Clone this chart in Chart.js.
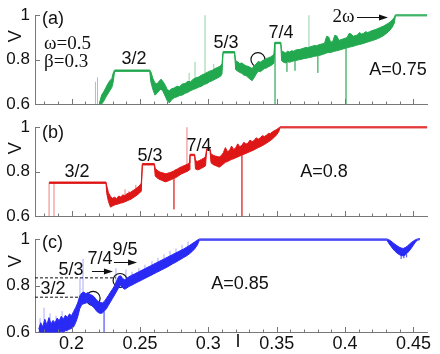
<!DOCTYPE html>
<html>
<head>
<meta charset="utf-8">
<script src="https://cdn.jsdelivr.net/npm/chart.js@4.4.0/dist/chart.umd.min.js"></script>
<style>
html,body{margin:0;padding:0;background:#fff;}
#wrap{position:relative;width:440px;height:354px;overflow:hidden;}
#wrap canvas{position:absolute;left:0;}
</style>
</head>
<body>
<div id="wrap">
<canvas id="chartA" width="440" height="120" style="top:0px"></canvas>
<canvas id="chartB" width="440" height="120" style="top:112px"></canvas>
<canvas id="chartC" width="440" height="130" style="top:224px"></canvas>
</div>
<script>
// axes
var xTicks = [0.2, 0.25, 0.3, 0.35, 0.4, 0.45];
var xTickLabels = ['0.2', '0.25', '0.3', '0.35', '0.4', '0.45'];
var xMinor = [0.18, 0.19, 0.21, 0.22, 0.23, 0.24, 0.26, 0.27, 0.28, 0.29, 0.31, 0.32, 0.33, 0.34, 0.36, 0.37, 0.38, 0.39, 0.41, 0.42, 0.43, 0.44];
var yTicks = [0.6, 0.8, 1];
var yTickLabels = ['0.6', '0.8', '1'];

// (a) A=0.75 : current I, upper and lower edge of the noisy V trace
var iA = [0.2205, 0.2220, 0.2235, 0.2250, 0.2265, 0.2280, 0.2295, 0.2305, 0.2315, 0.2572, 0.2580, 0.2595, 0.2610, 0.2625, 0.2640, 0.2655, 0.2670, 0.2685, 0.2700, 0.2715, 0.2730, 0.2750, 0.2770, 0.2790, 0.2810, 0.2830, 0.2850, 0.2870, 0.2890, 0.2910, 0.2930, 0.2950, 0.2970, 0.2990, 0.3010, 0.3030, 0.3050, 0.3070, 0.3090, 0.3100, 0.3108, 0.3192, 0.3200, 0.3215, 0.3230, 0.3245, 0.3260, 0.3275, 0.3290, 0.3305, 0.3320, 0.3335, 0.3350, 0.3365, 0.3380, 0.3395, 0.3410, 0.3425, 0.3440, 0.3455, 0.3470, 0.3480, 0.3486, 0.3530, 0.3536, 0.3550, 0.3565, 0.3580, 0.3595, 0.3610, 0.3625, 0.3640, 0.3655, 0.3670, 0.3685, 0.3700, 0.3715, 0.3730, 0.3745, 0.3760, 0.3775, 0.3790, 0.3805, 0.3820, 0.3835, 0.3850, 0.3865, 0.3880, 0.3895, 0.3910, 0.3925, 0.3940, 0.3955, 0.3970, 0.3985, 0.4000, 0.4015, 0.4030, 0.4045, 0.4060, 0.4075, 0.4090, 0.4105, 0.4120, 0.4135, 0.4150, 0.4165, 0.4180, 0.4195, 0.4210, 0.4225, 0.4240, 0.4255, 0.4270, 0.4285, 0.4300, 0.4315, 0.4330, 0.4345, 0.4360, 0.4368, 0.4600];
var hiA = [0.605, 0.640, 0.655, 0.672, 0.690, 0.705, 0.715, 0.740, 0.753, 0.753, 0.745, 0.715, 0.695, 0.690, 0.702, 0.712, 0.700, 0.685, 0.665, 0.660, 0.668, 0.672, 0.680, 0.678, 0.690, 0.692, 0.702, 0.700, 0.712, 0.718, 0.722, 0.730, 0.735, 0.742, 0.748, 0.752, 0.760, 0.765, 0.772, 0.780, 0.836, 0.836, 0.795, 0.790, 0.782, 0.785, 0.778, 0.772, 0.770, 0.765, 0.760, 0.772, 0.780, 0.792, 0.788, 0.795, 0.800, 0.805, 0.808, 0.812, 0.818, 0.825, 0.878, 0.878, 0.840, 0.835, 0.830, 0.838, 0.834, 0.840, 0.838, 0.843, 0.845, 0.846, 0.849, 0.852, 0.855, 0.853, 0.858, 0.860, 0.864, 0.862, 0.866, 0.869, 0.871, 0.874, 0.905, 0.902, 0.878, 0.882, 0.910, 0.906, 0.886, 0.890, 0.893, 0.896, 0.900, 0.918, 0.915, 0.905, 0.908, 0.911, 0.922, 0.915, 0.918, 0.926, 0.922, 0.926, 0.930, 0.933, 0.936, 0.940, 0.944, 0.948, 0.952, 0.958, 0.963, 0.970, 0.978, 0.990, 1.002, 1.002];
var loA = [0.600, 0.600, 0.612, 0.630, 0.645, 0.660, 0.675, 0.700, 0.747, 0.747, 0.700, 0.665, 0.640, 0.648, 0.660, 0.668, 0.655, 0.635, 0.615, 0.605, 0.618, 0.628, 0.632, 0.638, 0.640, 0.648, 0.652, 0.660, 0.665, 0.670, 0.676, 0.680, 0.688, 0.692, 0.700, 0.705, 0.712, 0.718, 0.725, 0.735, 0.830, 0.830, 0.755, 0.748, 0.742, 0.738, 0.730, 0.728, 0.720, 0.712, 0.705, 0.718, 0.735, 0.748, 0.745, 0.752, 0.760, 0.762, 0.768, 0.772, 0.778, 0.785, 0.872, 0.872, 0.795, 0.788, 0.785, 0.790, 0.788, 0.792, 0.794, 0.796, 0.798, 0.800, 0.802, 0.805, 0.806, 0.808, 0.810, 0.812, 0.815, 0.816, 0.818, 0.820, 0.823, 0.826, 0.830, 0.832, 0.832, 0.835, 0.838, 0.840, 0.842, 0.845, 0.848, 0.850, 0.853, 0.856, 0.858, 0.860, 0.863, 0.866, 0.868, 0.870, 0.873, 0.876, 0.879, 0.882, 0.885, 0.888, 0.891, 0.895, 0.899, 0.904, 0.910, 0.917, 0.925, 0.934, 0.946, 0.965, 0.997, 0.997];
var spkIA = [0.2175, 0.2190, 0.2860, 0.2903, 0.2976, 0.3040, 0.3488, 0.3575, 0.3634, 0.3736, 0.3801, 0.4007];
var spkFromA = [0.600, 0.600, 0.690, 0.700, 0.730, 0.740, 0.872, 0.790, 0.795, 0.850, 0.818, 0.850];
var spkToA = [0.700, 0.720, 0.740, 0.790, 1.000, 0.780, 0.600, 0.745, 0.750, 1.000, 0.740, 0.600];

// (b) A=0.8
var iB = [0.1836, 0.2252, 0.2258, 0.2270, 0.2285, 0.2300, 0.2315, 0.2330, 0.2345, 0.2360, 0.2375, 0.2390, 0.2405, 0.2420, 0.2435, 0.2450, 0.2465, 0.2480, 0.2495, 0.2510, 0.2518, 0.2605, 0.2612, 0.2625, 0.2640, 0.2655, 0.2670, 0.2685, 0.2700, 0.2715, 0.2730, 0.2745, 0.2760, 0.2775, 0.2790, 0.2805, 0.2820, 0.2835, 0.2850, 0.2860, 0.2866, 0.2900, 0.2906, 0.2920, 0.2935, 0.2950, 0.2965, 0.2980, 0.2988, 0.3012, 0.3020, 0.3035, 0.3050, 0.3065, 0.3080, 0.3095, 0.3110, 0.3125, 0.3140, 0.3155, 0.3170, 0.3185, 0.3200, 0.3215, 0.3230, 0.3245, 0.3260, 0.3275, 0.3290, 0.3305, 0.3320, 0.3335, 0.3350, 0.3365, 0.3380, 0.3395, 0.3410, 0.3425, 0.3440, 0.3455, 0.3470, 0.3485, 0.3500, 0.3515, 0.3524, 0.4600];
var hiB = [0.753, 0.753, 0.735, 0.705, 0.688, 0.680, 0.685, 0.678, 0.690, 0.686, 0.695, 0.692, 0.700, 0.704, 0.708, 0.715, 0.720, 0.728, 0.735, 0.748, 0.836, 0.836, 0.815, 0.806, 0.800, 0.796, 0.794, 0.790, 0.792, 0.795, 0.798, 0.802, 0.808, 0.812, 0.818, 0.822, 0.826, 0.830, 0.834, 0.840, 0.878, 0.878, 0.850, 0.846, 0.850, 0.855, 0.860, 0.868, 0.903, 0.903, 0.880, 0.874, 0.870, 0.868, 0.866, 0.872, 0.885, 0.908, 0.890, 0.895, 0.915, 0.900, 0.906, 0.925, 0.912, 0.918, 0.932, 0.924, 0.928, 0.942, 0.935, 0.940, 0.952, 0.946, 0.952, 0.962, 0.958, 0.964, 0.972, 0.972, 0.980, 0.985, 0.990, 0.996, 1.002, 1.002];
var loB = [0.747, 0.747, 0.700, 0.665, 0.640, 0.645, 0.650, 0.652, 0.655, 0.658, 0.660, 0.664, 0.668, 0.672, 0.676, 0.682, 0.688, 0.695, 0.702, 0.712, 0.830, 0.830, 0.780, 0.772, 0.766, 0.762, 0.758, 0.754, 0.756, 0.760, 0.764, 0.768, 0.772, 0.778, 0.784, 0.790, 0.794, 0.798, 0.802, 0.808, 0.872, 0.872, 0.812, 0.808, 0.810, 0.815, 0.820, 0.826, 0.897, 0.897, 0.840, 0.832, 0.828, 0.824, 0.820, 0.826, 0.834, 0.842, 0.845, 0.850, 0.855, 0.858, 0.862, 0.866, 0.870, 0.874, 0.878, 0.882, 0.886, 0.890, 0.894, 0.898, 0.903, 0.908, 0.912, 0.917, 0.922, 0.928, 0.934, 0.940, 0.948, 0.956, 0.966, 0.980, 0.997, 0.997];
var spkIB = [0.1836, 0.1872, 0.2391, 0.2420, 0.2470, 0.2749, 0.2844, 0.3246];
var spkFromB = [0.600, 0.600, 0.665, 0.672, 0.690, 0.766, 0.800, 0.874];
var spkToB = [0.750, 0.750, 0.720, 0.712, 0.740, 0.630, 1.000, 0.600];

// (c) A=0.85
var iC = [0.1760, 0.1775, 0.1790, 0.1805, 0.1820, 0.1835, 0.1850, 0.1865, 0.1880, 0.1895, 0.1910, 0.1925, 0.1940, 0.1955, 0.1970, 0.1985, 0.2000, 0.2015, 0.2030, 0.2045, 0.2060, 0.2075, 0.2090, 0.2105, 0.2120, 0.2135, 0.2150, 0.2165, 0.2180, 0.2195, 0.2210, 0.2225, 0.2240, 0.2255, 0.2270, 0.2285, 0.2300, 0.2315, 0.2330, 0.2345, 0.2360, 0.2375, 0.2390, 0.2405, 0.2420, 0.2440, 0.2460, 0.2480, 0.2500, 0.2520, 0.2540, 0.2560, 0.2580, 0.2600, 0.2620, 0.2640, 0.2660, 0.2680, 0.2700, 0.2720, 0.2740, 0.2760, 0.2780, 0.2800, 0.2820, 0.2840, 0.2860, 0.2880, 0.2900, 0.2920, 0.2935, 0.4306, 0.4320, 0.4335, 0.4350, 0.4365, 0.4380, 0.4395, 0.4410, 0.4425, 0.4440, 0.4455, 0.4470, 0.4485, 0.4500, 0.4515, 0.4530, 0.4547];
var hiC = [0.612, 0.640, 0.622, 0.655, 0.630, 0.662, 0.635, 0.650, 0.640, 0.660, 0.648, 0.668, 0.655, 0.672, 0.662, 0.678, 0.670, 0.688, 0.705, 0.725, 0.755, 0.768, 0.772, 0.765, 0.770, 0.762, 0.758, 0.752, 0.740, 0.732, 0.728, 0.725, 0.732, 0.745, 0.758, 0.772, 0.785, 0.800, 0.820, 0.840, 0.842, 0.830, 0.825, 0.832, 0.838, 0.845, 0.850, 0.856, 0.862, 0.868, 0.874, 0.880, 0.886, 0.892, 0.898, 0.904, 0.910, 0.916, 0.922, 0.928, 0.934, 0.940, 0.946, 0.952, 0.958, 0.965, 0.972, 0.980, 0.988, 0.996, 1.001, 1.001, 0.998, 0.992, 0.985, 0.978, 0.972, 0.966, 0.962, 0.960, 0.964, 0.970, 0.978, 0.986, 0.992, 0.998, 1.001, 1.003];
var loC = [0.600, 0.600, 0.600, 0.600, 0.600, 0.600, 0.600, 0.600, 0.600, 0.600, 0.600, 0.602, 0.600, 0.605, 0.608, 0.612, 0.615, 0.622, 0.640, 0.665, 0.700, 0.718, 0.722, 0.725, 0.728, 0.720, 0.712, 0.705, 0.692, 0.684, 0.680, 0.682, 0.690, 0.700, 0.715, 0.730, 0.745, 0.760, 0.775, 0.792, 0.800, 0.790, 0.784, 0.790, 0.796, 0.802, 0.808, 0.814, 0.820, 0.826, 0.832, 0.838, 0.844, 0.850, 0.856, 0.862, 0.868, 0.874, 0.880, 0.887, 0.894, 0.900, 0.907, 0.914, 0.921, 0.928, 0.936, 0.946, 0.958, 0.975, 0.996, 0.996, 0.982, 0.970, 0.958, 0.948, 0.940, 0.934, 0.930, 0.928, 0.932, 0.940, 0.950, 0.962, 0.975, 0.988, 0.996, 0.998];
var spkIC = [0.1770, 0.1799, 0.1843, 0.1887, 0.1931, 0.1967, 0.2062, 0.2084, 0.2238, 0.2325, 0.2398, 0.2442, 0.2493, 0.2537, 0.2588, 0.2632, 0.2676, 0.2720, 0.2764, 0.2808, 0.2852, 0.4410, 0.4430, 0.4450];
var spkFromC = [0.600, 0.600, 0.600, 0.600, 0.600, 0.600, 0.720, 0.730, 0.690, 0.780, 0.800, 0.800, 0.820, 0.835, 0.850, 0.865, 0.880, 0.895, 0.910, 0.925, 0.940, 0.935, 0.932, 0.935];
var spkToC = [0.660, 0.705, 0.680, 0.670, 0.690, 0.670, 0.835, 0.915, 0.600, 0.875, 0.870, 0.860, 0.875, 0.890, 0.905, 0.920, 0.935, 0.950, 0.960, 0.975, 0.990, 0.915, 0.918, 0.922];

// marked points and guide lines
var circIA = [0.3363];
var circVA = [0.800];
var circIC = [0.2158, 0.2355];
var circVC = [0.745, 0.822];
var guideIC = [0.1733, 0.2135, 0.1733, 0.2325];
var guideVC = [0.75, 0.75, 0.8333, 0.8333];

var I_MIN = 0.1733, I_MAX = 0.4599;
var axisColor = '#777';
var sans = '"Liberation Sans", Arial, Helvetica, sans-serif';
var serif = '"Liberation Serif", "Times New Roman", serif';

Chart.defaults.font.family = sans;
Chart.defaults.color = '#111';

var notesA = [
    {text: '(a)', x: 0.1784, y: 0.983, align: 'left'},
    {text: 'ω=0.5', x: 0.1799, y: 0.871, align: 'left', font: '19px ' + serif},
    {text: 'β=0.3', x: 0.1799, y: 0.789, align: 'left', font: '19px ' + serif},
    {text: '3/2', x: 0.2457, y: 0.802},
    {text: '5/3', x: 0.3129, y: 0.875},
    {text: '7/4', x: 0.3531, y: 0.918},
    {text: '2ω', x: 0.3988, y: 0.993, font: '19px ' + serif},
    {text: 'A=0.75', x: 0.4387, y: 0.755},
    {text: 'V', x: 0.1594, y: 0.905, rotate: true}
];
var arrowsA = [{x0: 0.4087, x1: 0.4314, y: 0.993}];

var notesB = [
    {text: '(b)', x: 0.1784, y: 0.974, align: 'left'},
    {text: '3/2', x: 0.2040, y: 0.796},
    {text: '5/3', x: 0.2574, y: 0.872},
    {text: '7/4', x: 0.2932, y: 0.915},
    {text: 'A=0.8', x: 0.3846, y: 0.796},
    {text: 'V', x: 0.1594, y: 0.905, rotate: true}
];

var notesC = [
    {text: '(c)', x: 0.1784, y: 0.983, align: 'left'},
    {text: '3/2', x: 0.1865, y: 0.785},
    {text: '5/3', x: 0.1996, y: 0.869},
    {text: '7/4', x: 0.2208, y: 0.916},
    {text: '9/5', x: 0.2391, y: 0.954},
    {text: 'A=0.85', x: 0.3232, y: 0.806},
    {text: 'V', x: 0.1594, y: 0.905, rotate: true},
    {text: 'I', x: 0.3217, y: 0.5580}
];
var arrowsC = [{x0: 0.2149, x1: 0.2303, y: 0.865}, {x0: 0.2310, x1: 0.2479, y: 0.903}];

/* inward tick marks like the original figure */
var tickMarks = {
    id: 'tickMarks',
    afterDraw: function(chart){
        var ctx = chart.ctx, a = chart.chartArea, x = chart.scales.x, y = chart.scales.y;
        ctx.save();
        ctx.strokeStyle = axisColor;
        ctx.lineWidth = 1;
        ctx.beginPath();
        xTicks.forEach(function(v){
            var p = Math.round(x.getPixelForValue(v)) + 0.5;
            ctx.moveTo(p, a.bottom); ctx.lineTo(p, a.bottom - 5);
        });
        xMinor.forEach(function(v){
            var p = Math.round(x.getPixelForValue(v)) + 0.5;
            ctx.moveTo(p, a.bottom); ctx.lineTo(p, a.bottom - 2.5);
        });
        yTicks.forEach(function(v){
            var p = Math.round(y.getPixelForValue(v)) + 0.5;
            ctx.moveTo(a.left, p); ctx.lineTo(a.left + 5, p);
        });
        ctx.stroke();
        ctx.restore();
    }
};

function notesPlugin(notes, arrows){
    return {
        id: 'notes',
        afterDatasetsDraw: function(chart){
            var ctx = chart.ctx, x = chart.scales.x, y = chart.scales.y;
            notes.forEach(function(t){
                ctx.save();
                ctx.font = t.font || ('18px ' + sans);
                ctx.fillStyle = '#111';
                ctx.textAlign = t.align || 'center';
                ctx.textBaseline = 'middle';
                var px = x.getPixelForValue(t.x), py = y.getPixelForValue(t.y);
                if(t.rotate){
                    ctx.translate(px, py);
                    ctx.rotate(-Math.PI / 2);
                    ctx.fillText(t.text, 0, 0);
                }else{
                    ctx.fillText(t.text, px, py);
                }
                ctx.restore();
            });
            (arrows || []).forEach(function(r){
                var x0 = x.getPixelForValue(r.x0), x1 = x.getPixelForValue(r.x1), py = Math.round(y.getPixelForValue(r.y)) + 0.5;
                ctx.save();
                ctx.strokeStyle = '#111';
                ctx.fillStyle = '#111';
                ctx.lineWidth = 1;
                ctx.beginPath();
                ctx.moveTo(x0, py); ctx.lineTo(x1 - 6, py);
                ctx.stroke();
                ctx.beginPath();
                ctx.moveTo(x1, py); ctx.lineTo(x1 - 9, py - 3); ctx.lineTo(x1 - 9, py + 3);
                ctx.closePath();
                ctx.fill();
                ctx.restore();
            });
        }
    };
}

function bandSets(iv, hi, lo, si, sFrom, sTo, color, light){
    var spk = [];
    si.forEach(function(v, k){
        spk.push({x: v, y: sFrom[k]}, {x: v, y: sTo[k]}, {x: v, y: null});
    });
    return [
        {data: spk, borderColor: light, borderWidth: 1, pointRadius: 0, spanGaps: false, clip: false},
        {data: iv.map(function(v, k){ return {x: v, y: hi[k]}; }), borderColor: color, borderWidth: 1, pointRadius: 0, fill: false, clip: false},
        {data: iv.map(function(v, k){ return {x: v, y: lo[k]}; }), borderColor: color, backgroundColor: color, borderWidth: 1, pointRadius: 0, fill: '-1', clip: false}
    ];
}

function circleSet(ci, cv){
    return {data: ci.map(function(v, k){ return {x: v, y: cv[k]}; }), showLine: false, pointRadius: 7,
        pointBorderColor: '#111', pointBorderWidth: 1.2, pointBackgroundColor: 'rgba(0,0,0,0)', borderColor: '#111', clip: false};
}

function makePanel(id, padTop, xHeight, showX, datasets, notes, arrows){
    return new Chart(document.getElementById(id), {
        type: 'line',
        data: {datasets: datasets},
        options: {
            responsive: false,
            animation: false,
            events: [],
            layout: {padding: {top: padTop, right: 13, left: 0, bottom: 0}},
            plugins: {legend: {display: false}, tooltip: {enabled: false}},
            scales: {
                x: {
                    type: 'linear', min: I_MIN, max: I_MAX,
                    grid: {display: false, drawTicks: false},
                    border: {display: true, color: axisColor, width: 1},
                    afterBuildTicks: function(s){ s.ticks = xTicks.map(function(v){ return {value: v}; }); },
                    afterFit: function(s){ s.height = xHeight; },
                    ticks: {display: showX, autoSkip: false, maxRotation: 0, padding: 1, color: '#111', font: {size: 18},
                        callback: function(v, k){ return xTickLabels[k]; }}
                },
                y: {
                    min: 0.6, max: 1,
                    grid: {display: false, drawTicks: false},
                    border: {display: true, color: axisColor, width: 1},
                    afterBuildTicks: function(s){ s.ticks = yTicks.map(function(v){ return {value: v}; }); },
                    afterFit: function(s){ s.width = 35; },
                    ticks: {padding: 5, color: '#111', font: {size: 17},
                        callback: function(v, k){ return yTickLabels[k]; }}
                }
            }
        },
        plugins: [tickMarks, notesPlugin(notes, arrows)]
    });
}

var green = 'rgb(34,168,78)', greenL = 'rgba(34,168,78,0.5)';
var red = 'rgb(222,22,22)', redL = 'rgba(222,22,22,0.55)';
var blue = 'rgb(42,42,245)', blueL = 'rgba(42,42,245,0.4)';

var setsA = bandSets(iA, hiA, loA, spkIA, spkFromA, spkToA, green, greenL);
setsA.push(circleSet(circIA, circVA));
makePanel('chartA', 11, 16, false, setsA, notesA, arrowsA);

var setsB = bandSets(iB, hiB, loB, spkIB, spkFromB, spkToB, red, redL);
makePanel('chartB', 10, 16, false, setsB, notesB, []);

var setsC = bandSets(iC, hiC, loC, spkIC, spkFromC, spkToC, blue, blueL);
setsC.push(circleSet(circIC, circVC));
setsC.push({data: [{x: guideIC[0], y: guideVC[0]}, {x: guideIC[1], y: guideVC[1]}], borderColor: '#111', borderWidth: 1, borderDash: [3, 2], pointRadius: 0});
setsC.push({data: [{x: guideIC[2], y: guideVC[2]}, {x: guideIC[3], y: guideVC[3]}], borderColor: '#111', borderWidth: 1, borderDash: [3, 2], pointRadius: 0});
makePanel('chartC', 13, 22, true, setsC, notesC, arrowsC);
</script>
</body>
</html>
